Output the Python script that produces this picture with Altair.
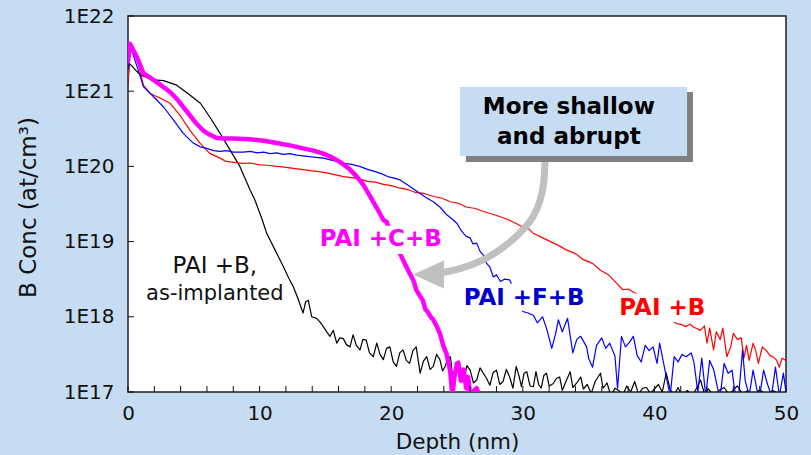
import altair as alt
import pandas as pd

# ---------------- data (depth nm, log10 concentration) ----------------
black_pts = [
    (0.0, 21.10), (0.1, 21.37), (0.9, 21.22), (1.9, 21.15), (2.7, 21.14), (3.7, 21.08),
    (4.7, 20.95), (5.5, 20.84), (6.2, 20.66), (7.0, 20.44), (7.75, 20.22), (8.5, 20.00),
    (9.27, 19.69), (9.65, 19.55), (10.2, 19.29), (10.54, 19.11), (11.2, 18.88), (11.8, 18.67),
    (12.2, 18.52), (12.56, 18.40), (12.9, 18.25), (13.3, 18.05), (13.5, 18.20), (13.7, 18.22),
    (13.96, 18.00), (14.33, 17.98), (14.6, 17.93), (14.84, 17.87), (15.1, 17.80), (15.35, 17.74),
    (15.6, 17.82), (15.86, 17.65), (16.1, 17.72), (16.36, 17.71), (16.6, 17.63), (16.87, 17.60),
    (17.1, 17.76), (17.35, 17.62), (17.63, 17.56), (17.85, 17.70), (18.1, 17.69), (18.35, 17.52),
    (18.64, 17.47), (18.9, 17.65), (19.15, 17.50), (19.4, 17.43), (19.65, 17.58), (19.9, 17.60),
    (20.15, 17.40), (20.4, 17.34), (20.65, 17.52), (20.9, 17.56), (21.15, 17.42), (21.4, 17.38),
    (21.65, 17.55), (21.9, 17.60), (22.2, 17.25), (22.45, 17.41), (22.7, 17.47), (22.95, 17.30),
    (23.2, 17.34), (23.45, 17.50), (23.7, 17.43), (23.9, 17.28), (24.1, 17.34), (24.3, 17.45),
    (24.5, 17.47), (24.7, 17.16), (24.9, 17.30), (25.1, 17.34), (25.3, 17.22), (25.5, 17.14),
    (25.75, 17.35), (26.0, 17.29), (26.25, 17.12), (26.5, 17.16), (26.75, 17.32), (27.0, 17.25),
    (27.25, 17.18), (27.5, 17.09), (27.75, 17.26), (28.0, 17.29), (28.25, 17.10), (28.5, 17.14),
    (28.75, 17.30), (29.0, 17.20), (29.25, 17.05), (29.5, 17.34), (29.7, 17.22), (29.9, 17.07),
    (30.1, 17.25), (30.3, 17.27), (30.55, 17.08), (30.8, 17.07), (31.0, 17.27), (31.2, 17.10),
    (31.4, 17.05), (31.6, 17.22), (31.8, 17.25), (32.0, 17.08), (32.3, 17.11), (32.55, 17.18),
    (32.8, 17.20), (33.0, 17.02), (33.3, 17.15), (33.6, 17.27), (33.8, 17.06), (34.1, 17.12),
    (34.4, 17.20), (34.6, 17.04), (34.9, 17.10), (35.2, 16.98), (35.5, 17.14), (35.9, 17.25),
    (36.1, 17.05), (36.4, 17.12), (36.7, 16.95), (37.0, 17.05), (37.3, 17.02), (37.6, 16.96),
    (37.9, 17.08), (38.2, 17.00), (38.5, 17.14), (38.8, 16.97), (39.1, 17.05), (39.4, 17.06),
    (39.7, 16.98), (40.0, 17.04), (40.3, 17.10), (40.6, 17.00), (40.9, 17.25), (41.2, 17.03),
    (41.5, 16.96), (41.8, 17.06), (42.1, 16.95), (42.5, 17.02), (42.9, 16.95), (43.2, 17.05),
    (43.5, 17.16), (43.8, 16.98), (44.1, 17.04), (44.5, 16.95), (44.9, 17.02), (45.3, 17.06),
    (45.7, 16.96), (46.0, 17.03), (46.3, 17.08), (46.7, 16.97), (47.1, 17.02), (47.5, 16.95),
    (48.0, 17.03), (48.5, 16.96), (49.0, 17.02), (49.5, 16.97), (50.0, 17.00),
]

red_pts = [
    (0.0, 21.10), (0.05, 21.30), (0.2, 21.60), (0.4, 21.59), (0.78, 21.37), (1.17, 21.08),
    (1.67, 20.97), (2.43, 20.91), (3.19, 20.84), (3.95, 20.68), (4.71, 20.48), (5.47, 20.31),
    (6.23, 20.17), (6.99, 20.11), (7.4, 20.07), (7.75, 20.06), (8.2, 20.05), (8.76, 20.04),
    (9.3, 20.045), (10.0, 20.02), (10.6, 20.015), (11.3, 20.00), (11.9, 19.99), (12.56, 19.975),
    (13.2, 19.96), (13.83, 19.945), (14.5, 19.93), (15.1, 19.915), (15.7, 19.89), (16.36, 19.865),
    (17.0, 19.85), (17.6, 19.83), (18.2, 19.80), (18.8, 19.79), (19.4, 19.76), (20.0, 19.745),
    (20.67, 19.71), (21.3, 19.69), (21.9, 19.65), (22.5, 19.64), (23.2, 19.60), (23.8, 19.58),
    (24.5, 19.53), (25.1, 19.51), (25.7, 19.46), (26.4, 19.44), (27.0, 19.40), (27.6, 19.37),
    (28.3, 19.33), (28.9, 19.29), (29.5, 19.24), (30.1, 19.18), (30.45, 19.17), (30.8, 19.11),
    (31.4, 19.06), (32.1, 19.00), (32.7, 18.95), (33.3, 18.89), (34.0, 18.84), (34.6, 18.76),
    (35.3, 18.71), (35.9, 18.62), (36.5, 18.56), (37.1, 18.45), (37.6, 18.36), (38.0, 18.37),
    (38.5, 18.32), (40.0, 18.10), (41.7, 17.91), (42.0, 17.90), (42.4, 17.87), (42.7, 17.90),
    (43.0, 17.86), (43.5, 17.82), (43.8, 17.88), (44.0, 17.65), (44.2, 17.85), (44.5, 17.56),
    (44.7, 17.80), (45.0, 17.70), (45.2, 17.85), (45.5, 17.47), (45.8, 17.60), (46.0, 17.78),
    (46.3, 17.70), (46.6, 17.72), (46.8, 17.45), (47.0, 17.62), (47.2, 17.42), (47.5, 17.65),
    (47.7, 17.55), (47.9, 17.38), (48.2, 17.60), (48.5, 17.55), (48.8, 17.48), (49.0, 17.47),
    (49.3, 17.42), (49.5, 17.33), (49.7, 17.45), (50.0, 17.42),
]

blue_pts = [
    (0.0, 21.30), (0.15, 21.61), (0.78, 21.28), (1.17, 21.06), (1.93, 20.93), (2.7, 20.79),
    (3.45, 20.62), (4.2, 20.44), (4.96, 20.31), (5.5, 20.26), (5.98, 20.24), (6.5, 20.21),
    (7.0, 20.20), (7.5, 20.21), (8.0, 20.19), (8.76, 20.19), (9.3, 20.20), (9.8, 20.18),
    (10.3, 20.19), (10.8, 20.17), (11.3, 20.18), (11.8, 20.16), (12.3, 20.17), (12.8, 20.15),
    (13.3, 20.14), (13.8, 20.13), (14.3, 20.12), (14.84, 20.11), (15.3, 20.09), (15.8, 20.07),
    (16.36, 20.04), (16.9, 20.03), (17.6, 20.00), (18.2, 19.96), (18.8, 19.93), (19.3, 19.90),
    (19.8, 19.86), (20.3, 19.84), (20.67, 19.82), (21.2, 19.76), (21.7, 19.70), (22.2, 19.64),
    (22.7, 19.58), (23.2, 19.53), (23.7, 19.46), (24.2, 19.36), (24.7, 19.29), (25.0, 19.24),
    (25.3, 19.15), (25.7, 19.07), (26.0, 19.05), (26.2, 18.97), (26.5, 18.98), (26.75, 18.87),
    (27.0, 18.82), (27.25, 18.71), (27.5, 18.66), (27.76, 18.53), (28.0, 18.56), (28.3, 18.47),
    (28.6, 18.50), (29.0, 18.49), (29.5, 18.30), (30.0, 18.07), (30.4, 18.05), (30.8, 18.02),
    (31.1, 17.92), (31.5, 18.00), (31.8, 17.85), (32.2, 17.58), (32.5, 17.78), (32.7, 17.96),
    (33.0, 17.80), (33.4, 17.98), (33.8, 17.52), (34.1, 17.70), (34.4, 17.74), (34.85, 17.60),
    (35.0, 17.45), (35.3, 17.33), (35.6, 17.62), (36.0, 17.72), (36.3, 17.58), (36.6, 17.65),
    (37.0, 17.48), (37.2, 17.05), (37.5, 17.74), (37.8, 17.60), (38.1, 17.66), (38.4, 17.74),
    (38.7, 17.48), (39.0, 17.40), (39.3, 17.62), (39.6, 17.55), (39.9, 17.60), (40.2, 17.38),
    (40.4, 17.65), (40.7, 17.38), (41.0, 17.12), (41.2, 16.95), (41.5, 17.47), (41.8, 17.40),
    (42.1, 17.50), (42.4, 17.47), (42.8, 17.52), (43.0, 17.40), (43.3, 17.00), (43.6, 17.45),
    (43.9, 16.95), (44.2, 17.42), (44.5, 17.30), (44.8, 17.05), (45.0, 16.95), (45.3, 17.38),
    (45.6, 17.25), (45.9, 17.29), (46.1, 17.02), (46.4, 16.95), (46.7, 17.56), (46.9, 17.15),
    (47.2, 16.95), (47.5, 17.29), (47.8, 17.02), (48.0, 16.95), (48.3, 17.29), (48.6, 17.10),
    (48.9, 16.95), (49.2, 17.33), (49.5, 16.95), (49.8, 17.25), (50.0, 17.00),
]

magenta_pts = [
    (0.0, 21.40), (0.15, 21.63), (0.66, 21.46), (1.17, 21.24), (1.93, 21.15), (2.5, 21.08),
    (3.19, 20.99), (3.7, 20.90), (4.2, 20.79), (4.7, 20.68), (5.2, 20.57), (5.7, 20.48),
    (6.23, 20.42), (6.7, 20.38), (7.24, 20.37), (8.0, 20.37), (9.27, 20.36), (10.3, 20.34),
    (11.3, 20.31), (12.3, 20.28), (13.3, 20.24), (14.1, 20.21), (14.84, 20.17), (15.5, 20.12),
    (16.1, 20.06), (16.8, 19.97), (17.4, 19.86), (17.9, 19.75), (18.4, 19.60), (18.9, 19.45),
    (19.4, 19.29), (19.66, 19.26), (20.2, 19.00), (20.67, 18.84), (21.0, 18.72), (21.4, 18.58),
    (21.7, 18.48), (21.9, 18.36), (22.1, 18.30), (22.4, 18.22), (22.6, 18.10), (22.8, 18.06),
    (23.0, 18.00), (23.2, 17.96), (23.5, 17.86), (23.7, 17.78), (23.95, 17.62), (24.2, 17.51),
    (24.4, 17.35), (24.5, 17.25), (24.65, 16.95), (24.8, 17.20), (25.0, 17.38), (25.1, 17.39),
    (25.3, 17.15), (25.5, 17.30), (25.7, 17.05), (25.85, 17.20), (26.0, 16.95), (26.3, 17.02),
    (26.5, 17.05), (26.7, 16.95), (27.0, 16.97),
]

series = [
    ("PAI+B, as-implanted", black_pts),
    ("PAI+B", red_pts),
    ("PAI+F+B", blue_pts),
    ("PAI+C+B", magenta_pts),
]
line_colors = {"PAI+B, as-implanted": "#000000", "PAI+B": "#ff0000",
               "PAI+F+B": "#0000ff", "PAI+C+B": "#ff00ff"}
line_widths = {"PAI+B, as-implanted": 1.2, "PAI+B": 1.2, "PAI+F+B": 1.2, "PAI+C+B": 4.5}

x_ticks = [0, 10, 20, 30, 40, 50]
x_minor = list(range(0, 51, 2))
y_ticks = [1e17, 1e18, 1e19, 1e20, 1e21, 1e22]

# annotation texts / positions (data units)
label_text = ["PAI +C+B", "PAI +F+B", "PAI +B"]
label_x = [19.2, 30.1, 40.6]
label_logy = [19.03, 18.25, 18.12]
label_color = ["#ff00ff", "#0000cc", "#ff0000"]
# white boxes that hide the curves behind the labels
mask_x1 = [14.4, 25.2, 37.25]
mask_x2 = [24.1, 35.3, 43.9]
mask_y1 = [19.21, 18.44, 18.31]
mask_y2 = [18.835, 18.08, 17.93]

note_lines = ["More shallow", "and abrupt"]
note_x = 33.5
note_logy = [20.79, 20.39]
box_x = (25.23, 42.48)
box_logy = (21.056, 20.138)
shadow_x = (25.68, 42.93)
shadow_logy = (20.989, 20.059)

arrow_x = [31.69, 31.60, 31.30, 30.70, 29.70, 28.40, 26.90, 25.30, 23.71]
arrow_logy = [20.085, 19.80, 19.54, 19.31, 19.10, 18.91, 18.75, 18.645, 18.582]
arrow_head = (22.83, 18.562)

# ---------------- build tables ----------------
rows = []
for name, pts in series:
    for i, (d, lg) in enumerate(pts):
        rows.append({"series": name, "idx": i, "depth": d, "conc": 10 ** lg})
df = pd.DataFrame(rows)

FONT = "DejaVu Sans"
BG = "#c5dcf2"

x_scale = alt.Scale(domain=[0, 50], nice=False, zero=False)
y_scale = alt.Scale(type="log", domain=[1e17, 1e22], nice=False)

x_axis = alt.Axis(values=x_ticks, ticks=False, tickSize=0, domain=False, grid=False,
                  labelFlush=False, labelOverlap=False,
                  labelFont=FONT, labelFontSize=20, labelColor="#111", labelPadding=11,
                  title="Depth (nm)", titleFont=FONT, titleFontSize=21.5, titleFontWeight="normal",
                  titleColor="#111", titleY=56, titleBaseline="alphabetic")
y_axis = alt.Axis(values=y_ticks, ticks=False, tickSize=0, domain=False, grid=False,
                  labelFlush=False, labelOverlap=False,
                  labelExpr="'1E' + round(log(datum.value) / LN10)",
                  labelFont=FONT, labelFontSize=20, labelColor="#111", labelPadding=14,
                  title="B Conc (at/cm³)", titleFont=FONT, titleFontSize=23,
                  titleFontWeight="normal", titleColor="#111", titleX=-100, titleY=191,
                  titleAngle=-90, titleAlign="center", titleBaseline="middle")


def X(field):
    return alt.X(field, type="quantitative", scale=x_scale, axis=x_axis)


def Y(field):
    return alt.Y(field, type="quantitative", scale=y_scale, axis=y_axis)


layers = []
for name, _ in series:
    layers.append(
        alt.Chart(df).transform_filter(alt.datum.series == name)
        .mark_line(color=line_colors[name], strokeWidth=line_widths[name], clip=True,
                   strokeJoin="round", strokeCap="round")
        .encode(x=X("depth"), y=Y("conc"), order=alt.Order("idx:Q"))
    )

# white masks behind coloured labels
mask_df = pd.DataFrame({"x1": mask_x1, "x2": mask_x2,
                        "y1": [10 ** v for v in mask_y1], "y2": [10 ** v for v in mask_y2]})
layers.append(alt.Chart(mask_df).mark_rect(color="white")
              .encode(x=X("x1"), x2="x2", y=Y("y1"), y2="y2"))

# inward ticks
xt_df = pd.DataFrame({"t": x_minor, "y1": 1e17, "y2": 10 ** 17.08})
layers.append(alt.Chart(xt_df).mark_rule(color="#111", strokeWidth=1)
              .encode(x=X("t"), y=Y("y1"), y2="y2"))
yt_df = pd.DataFrame({"v": y_ticks, "x1": 0.0, "x2": 0.46})
layers.append(alt.Chart(yt_df).mark_rule(color="#111", strokeWidth=1)
              .encode(y=Y("v"), x=X("x1"), x2="x2"))

# series labels
lab_df = pd.DataFrame({"text": label_text, "x": label_x,
                       "y": [10 ** v for v in label_logy], "color": label_color})
layers.append(alt.Chart(lab_df).mark_text(font=FONT, fontSize=23, fontWeight="bold",
                                          align="center", baseline="middle")
              .encode(x=X("x"), y=Y("y"), text="text:N",
                      color=alt.Color("color:N", scale=None)))

blk_df = pd.DataFrame({"text": ["PAI +B,", "as-implanted"], "x": [6.6, 6.6],
                       "y": [10 ** 18.68, 10 ** 18.30], "size": [23, 21]})
layers.append(alt.Chart(blk_df).mark_text(font=FONT, align="center", baseline="middle",
                                          color="#111")
              .encode(x=X("x"), y=Y("y"), text="text:N",
                      size=alt.Size("size:Q", scale=None)))

# arrow
arr_df = pd.DataFrame({"i": list(range(len(arrow_x))), "x": arrow_x,
                       "y": [10 ** v for v in arrow_logy]})
layers.append(alt.Chart(arr_df).mark_line(color="#c0c0c0", strokeWidth=7, strokeCap="butt",
                                          interpolate="natural")
              .encode(x=X("x"), y=Y("y"), order=alt.Order("i:Q")))
head_df = pd.DataFrame({"x": [arrow_head[0]], "y": [10 ** arrow_head[1]]})
layers.append(alt.Chart(head_df).mark_point(shape="M-1,0L1,-0.9L1,0.9Z", size=961,
                                            filled=True, color="#c0c0c0", opacity=1,
                                            strokeWidth=0)
              .encode(x=X("x"), y=Y("y")))

# annotation box with shadow
sh_df = pd.DataFrame({"x1": [shadow_x[0]], "x2": [shadow_x[1]],
                      "y1": [10 ** shadow_logy[0]], "y2": [10 ** shadow_logy[1]]})
layers.append(alt.Chart(sh_df).mark_rect(color="#808080")
              .encode(x=X("x1"), x2="x2", y=Y("y1"), y2="y2"))
bx_df = pd.DataFrame({"x1": [box_x[0]], "x2": [box_x[1]],
                      "y1": [10 ** box_logy[0]], "y2": [10 ** box_logy[1]]})
layers.append(alt.Chart(bx_df).mark_rect(color=BG)
              .encode(x=X("x1"), x2="x2", y=Y("y1"), y2="y2"))
note_df = pd.DataFrame({"text": note_lines, "x": [note_x, note_x],
                        "y": [10 ** v for v in note_logy]})
layers.append(alt.Chart(note_df).mark_text(font=FONT, fontSize=23, fontWeight="bold",
                                           color="#000", align="center", baseline="middle")
              .encode(x=X("x"), y=Y("y"), text="text:N"))

chart = alt.layer(*layers).properties(
    width=658, height=376,
    padding={"left": 128, "top": 16, "right": 25, "bottom": 63},
    autosize=alt.AutoSizeParams(type="none"),
    background=BG,
).configure_view(fill="white", stroke="#222", strokeWidth=1.5)

chart.save("out.html", embed_options={"renderer": "svg", "actions": False})
